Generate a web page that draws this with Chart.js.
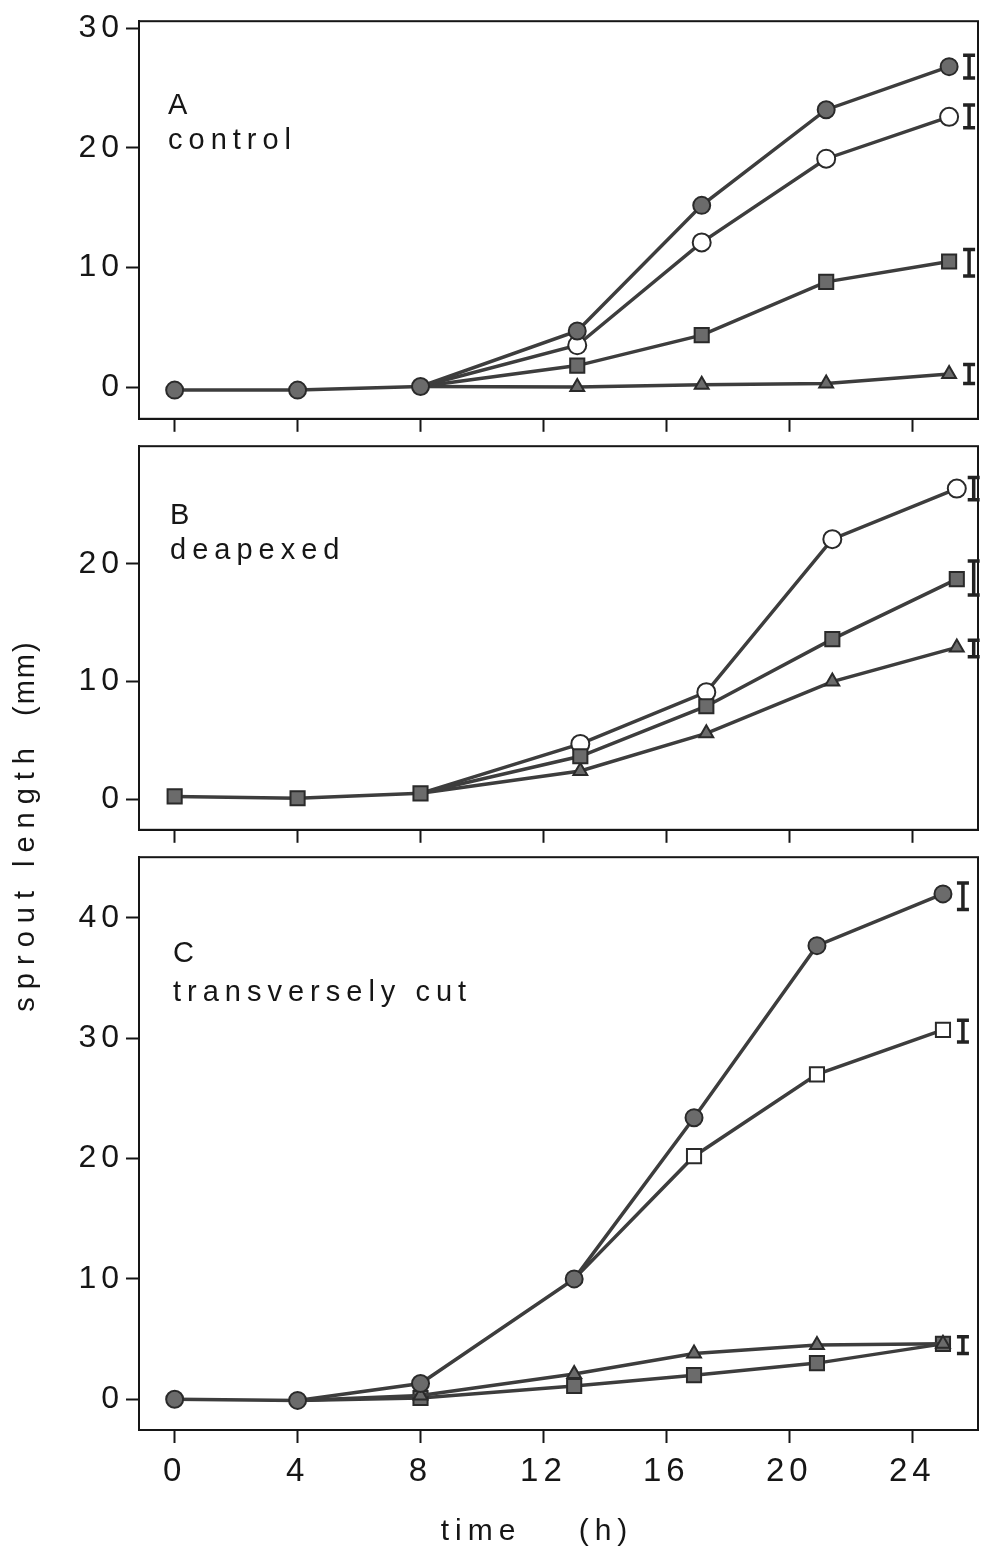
<!DOCTYPE html>
<html lang="en">
<head>
<meta charset="UTF-8">
<title>Sprout length over time</title>
<script src="https://cdn.jsdelivr.net/npm/chart.js"></script>
<style>
    body { margin: 0; background: #fff; }
    #page { position: relative; width: 990px; height: 1550px; overflow: hidden;
            font-family: "Liberation Sans", Arial, sans-serif; color: #161616; }
    canvas { position: absolute; left: 0; }
    #yTitle { position: absolute; left: -186px; top: 808px; width: 420px; height: 36px;
              line-height: 36px; text-align: center; font-size: 29px; letter-spacing: 8px;
              white-space: pre; transform: rotate(-90deg); }
    #yTitle .gap { margin-left: 16px; }
    #yTitle .unit { letter-spacing: 2px; margin-left: 24px; }
    #xTitle { position: absolute; left: 337px; top: 1512px; width: 400px; height: 36px;
              line-height: 36px; text-align: center; font-size: 30px; letter-spacing: 6px;
              white-space: pre; }
</style>
</head>
<body>
<div id="page">
    <canvas id="panelA" width="990" height="440" style="top:0px"></canvas>
    <canvas id="panelB" width="990" height="426" style="top:425px"></canvas>
    <canvas id="panelC" width="990" height="714" style="top:836px"></canvas>
    <div id="yTitle">sprout<span class="gap">length</span><span class="unit">(mm)</span></div>
    <div id="xTitle">time    (h)</div>
</div>
<script>
    // x axis tick labels (hours), shared by all three panels
    const hours = [0, 4, 8, 12, 16, 20, 24];

    // A - control
    const timeA = [0, 4, 8, 13.1, 17.15, 21.2, 25.2];
    const aFilledCircle = [-0.25, -0.25, 0.05, 4.7, 15.2, 23.2, 26.8];
    const aOpenCircle   = [null, null, 0.05, 3.5, 12.1, 19.1, 22.6];
    const aFilledSquare = [null, null, 0.05, 1.8, 4.35, 8.8, 10.5];
    const aTriangle     = [null, null, 0.05, 0.0, 0.2, 0.3, 1.1];
    const aErrTime = 25.85;
    const aErrMid  = [26.8, 22.65, 10.4, 1.1];
    const aErrHalf = [0.95, 0.95, 1.1, 0.8];
    const aTicks = [0, 10, 20, 30];

    // B - deapexed
    const timeB = [0, 4, 8, 13.2, 17.3, 21.4, 25.45];
    const bFilledSquare = [0.24, 0.08, 0.5, 3.65, 7.9, 13.6, 18.7];
    const bOpenCircle   = [null, null, 0.5, 4.7, 9.1, 22.1, 26.4];
    const bTriangle     = [null, null, 0.5, 2.4, 5.6, 10.0, 12.9];
    const bErrTime = 26.0;
    const bErrMid  = [26.4, 18.8, 12.8];
    const bErrHalf = [0.95, 1.45, 0.7];
    const bTicks = [0, 10, 20];

    // C - transversely cut
    const timeC = [0, 4, 8, 13.0, 16.9, 20.9, 25.0];
    const cFilledCircle = [0, -0.1, 1.3, 10.0, 23.4, 37.7, 42.0];
    const cOpenSquare   = [null, null, null, 10.0, 20.2, 27.0, 30.7];
    const cTriangle     = [null, -0.1, 0.3, 2.1, 3.8, 4.5, 4.6];
    const cFilledSquare = [null, -0.1, 0.1, 1.1, 2.0, 3.0, 4.6];
    const cErrTime = 25.65;
    const cErrMid  = [41.8, 30.6, 4.5];
    const cErrHalf = [1.1, 0.9, 0.7];
    const cTicks = [0, 10, 20, 30, 40];

    const ink = '#161616';
    const lineGrey = '#3d3d3d';
    const markGrey = '#6b6b6b';
    const fontFamily = '"Liberation Sans", Arial, sans-serif';

    const markers = {
        filledCircle: { style: 'circle', r: 8.5, fill: markGrey },
        openCircle:   { style: 'circle', r: 9, fill: '#ffffff' },
        filledSquare: { style: 'rect', r: 10, fill: markGrey },
        openSquare:   { style: 'rect', r: 10, fill: '#ffffff' },
        triangle:     { style: 'triangle', r: 8, fill: markGrey }
    };

    // the first point of a branching series sits under the main series' marker
    function series(times, values, kind, primary) {
        const m = markers[kind];
        const first = values.findIndex(v => v !== null);
        return {
            data: times.map((t, i) => ({ x: t, y: values[i] })),
            borderColor: lineGrey,
            borderWidth: 3.5,
            tension: 0,
            pointStyle: m.style,
            pointRadius: ctx => (!primary && ctx.dataIndex === first) ? 0 : m.r,
            pointBackgroundColor: m.fill,
            pointBorderColor: '#2a2a2a',
            pointBorderWidth: 2
        };
    }

    const framePlugin = {
        id: 'frame',
        beforeDraw(chart) {
            chart.ctx.letterSpacing = '5px';
        },
        afterDraw(chart) {
            const { ctx, chartArea: a, scales } = chart;
            const o = chart.options.plugins.panel;
            ctx.save();
            ctx.strokeStyle = ink;
            ctx.lineWidth = 2;
            ctx.strokeRect(a.left, a.top, a.right - a.left, a.bottom - a.top);

            // error bars
            ctx.lineWidth = 3.5;
            ctx.strokeStyle = '#222';
            const ex = scales.x.getPixelForValue(o.errTime);
            o.errMid.forEach((mid, i) => {
                const y1 = scales.y.getPixelForValue(mid + o.errHalf[i]);
                const y2 = scales.y.getPixelForValue(mid - o.errHalf[i]);
                ctx.beginPath();
                ctx.moveTo(ex, y1); ctx.lineTo(ex, y2);
                ctx.moveTo(ex - 6, y1); ctx.lineTo(ex + 6, y1);
                ctx.moveTo(ex - 6, y2); ctx.lineTo(ex + 6, y2);
                ctx.stroke();
            });

            // panel letter and treatment name
            ctx.letterSpacing = '6px';
            ctx.fillStyle = ink;
            ctx.font = '29px ' + fontFamily;
            ctx.textBaseline = 'alphabetic';
            o.lines.forEach((txt, i) => {
                ctx.fillText(txt, a.left + o.dx, a.top + o.dy[i]);
            });
            ctx.restore();
            ctx.letterSpacing = '0px';
        }
    };

    function makeChart(id, cfg) {
        return new Chart(document.getElementById(id), {
            type: 'line',
            data: { datasets: cfg.datasets },
            plugins: [framePlugin],
            options: {
                responsive: false,
                animation: false,
                layout: { padding: { top: cfg.padTop, right: 6, left: 0, bottom: 0 } },
                plugins: {
                    legend: { display: false },
                    tooltip: { enabled: false },
                    panel: cfg.panel
                },
                scales: {
                    x: {
                        type: 'linear',
                        min: -1.16,
                        max: 26.14,
                        afterBuildTicks: s => { s.ticks = hours.map(v => ({ value: v })); },
                        afterFit: s => { s.height = cfg.xHeight; },
                        grid: { drawOnChartArea: false, tickLength: 13, tickWidth: 2, tickColor: ink },
                        border: { display: true, color: ink, width: 2 },
                        ticks: {
                            display: cfg.showX,
                            autoSkip: false,
                            maxRotation: 0,
                            padding: 9,
                            color: ink,
                            font: { family: fontFamily, size: 33 }
                        }
                    },
                    y: {
                        min: cfg.yMin,
                        max: cfg.yMax,
                        afterBuildTicks: s => { s.ticks = cfg.yTicks.map(v => ({ value: v })); },
                        afterFit: s => { s.width = 139; },
                        grid: { drawOnChartArea: false, tickLength: 13, tickWidth: 2, tickColor: ink },
                        border: { display: true, color: ink, width: 2 },
                        ticks: {
                            padding: 2,
                            color: ink,
                            font: { family: fontFamily, size: 32 }
                        }
                    }
                }
            }
        });
    }

    makeChart('panelA', {
        padTop: 10, xHeight: 15, showX: false,
        yMin: -2.65, yMax: 30.6, yTicks: aTicks,
        panel: { lines: ['A', 'control'], dx: 29, dy: [93, 128],
                 errTime: aErrTime, errMid: aErrMid, errHalf: aErrHalf },
        datasets: [
            series(timeA, aFilledCircle, 'filledCircle', true),
            series(timeA, aOpenCircle, 'openCircle', false),
            series(timeA, aFilledSquare, 'filledSquare', false),
            series(timeA, aTriangle, 'triangle', false)
        ]
    });

    makeChart('panelB', {
        padTop: 0, xHeight: 15, showX: false,
        yMin: -2.6, yMax: 30.0, yTicks: bTicks,
        panel: { lines: ['B', 'deapexed'], dx: 31, dy: [78, 113],
                 errTime: bErrTime, errMid: bErrMid, errHalf: bErrHalf },
        datasets: [
            series(timeB, bFilledSquare, 'filledSquare', true),
            series(timeB, bOpenCircle, 'openCircle', false),
            series(timeB, bTriangle, 'triangle', false)
        ]
    });

    makeChart('panelC', {
        padTop: 0, xHeight: 120, showX: true,
        yMin: -2.56, yMax: 45.05, yTicks: cTicks,
        panel: { lines: ['C', 'transversely cut'], dx: 34, dy: [105, 144],
                 errTime: cErrTime, errMid: cErrMid, errHalf: cErrHalf },
        datasets: [
            series(timeC, cFilledCircle, 'filledCircle', true),
            series(timeC, cOpenSquare, 'openSquare', false),
            series(timeC, cTriangle, 'triangle', false),
            series(timeC, cFilledSquare, 'filledSquare', false)
        ]
    });
</script>
</body>
</html>
